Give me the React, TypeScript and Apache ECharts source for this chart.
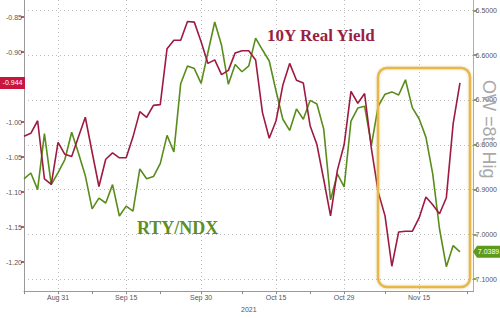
import React, { useEffect, useRef } from 'react';
import * as echarts from 'echarts';

const dates = ['Aug 24','Aug 25','Aug 26','Aug 27','Aug 30','Aug 31','Sep 1','Sep 2','Sep 3','Sep 7','Sep 8','Sep 9','Sep 10','Sep 13','Sep 14','Sep 15','Sep 16','Sep 17','Sep 20','Sep 21','Sep 22','Sep 23','Sep 24','Sep 27','Sep 28','Sep 29','Sep 30','Oct 1','Oct 4','Oct 5','Oct 6','Oct 7','Oct 8','Oct 11','Oct 12','Oct 13','Oct 14','Oct 15','Oct 18','Oct 19','Oct 20','Oct 21','Oct 22','Oct 25','Oct 26','Oct 27','Oct 28','Oct 29','Nov 1','Nov 2','Nov 3','Nov 4','Nov 5','Nov 8','Nov 9','Nov 10','Nov 11','Nov 12','Nov 15','Nov 16','Nov 17','Nov 18','Nov 19','Nov 22','Nov 23','Nov 24','Nov 26'];

const labelDates = ['Aug 31','Sep 15','Sep 30','Oct 15','Oct 29','Nov 15'];
const extraTickDates = ['Aug 24','Sep 8','Sep 22','Oct 8','Oct 22','Nov 8','Nov 24'];

const realYield = [-1.020,-1.016,-0.998,-1.081,-1.089,-1.029,-1.046,-1.049,-1.021,-0.993,-1.043,-1.092,-1.053,-1.044,-1.051,-1.051,-1.021,-0.985,-0.993,-0.976,-0.975,-0.895,-0.883,-0.883,-0.856,-0.857,-0.885,-0.916,-0.911,-0.932,-0.926,-0.901,-0.898,-0.898,-0.911,-0.986,-1.023,-0.998,-0.947,-0.916,-0.940,-0.944,-1.005,-1.032,-1.082,-1.134,-1.069,-1.032,-0.956,-0.973,-0.959,-1.038,-1.100,-1.134,-1.206,-1.157,-1.156,-1.156,-1.137,-1.107,-1.118,-1.131,-1.108,-1.002,-0.944];

const rtyNdx = [6.876,6.863,6.900,6.775,6.889,6.862,6.833,6.772,6.819,6.869,6.943,6.919,6.930,6.889,6.959,6.937,6.948,6.854,6.876,6.871,6.842,6.779,6.816,6.664,6.624,6.630,6.663,6.594,6.526,6.578,6.665,6.621,6.637,6.624,6.562,6.588,6.613,6.680,6.743,6.768,6.720,6.743,6.701,6.709,6.765,6.923,6.865,6.894,6.747,6.718,6.714,6.801,6.714,6.687,6.682,6.689,6.655,6.717,6.742,6.783,6.865,6.988,7.072,7.025,7.039];

const leftTicks = [-1.2, -1.15, -1.1, -1.05, -1.0, -0.95, -0.9, -0.85];
const leftLabels = [-1.2, -1.15, -1.1, -1.05, -1.0, -0.9, -0.85];
const rightTicks = [6.5, 6.6, 6.7, 6.8, 6.9, 7.0, 7.1];

const lastYield = -0.944;
const lastRatio = 7.0389;

const RED = '#9e1a40';
const GREEN = '#5a8c1c';
const FONT = 'Liberation Sans, Arial, sans-serif';

export default function App() {
  const ref = useRef<HTMLDivElement>(null);
  useEffect(() => {
    if (!ref.current) return;
    const chart = echarts.init(ref.current, null, { renderer: 'svg' });
    const labelSet = new Set(labelDates);
    const tickSet = new Set(extraTickDates);
    chart.setOption({
      animation: false,
      backgroundColor: '#ffffff',
      grid: { left: 24, right: 26, top: 0, bottom: 17 },
      xAxis: {
        type: 'category',
        data: dates,
        boundaryGap: false,
        axisLine: { lineStyle: { color: '#9a9a9a', width: 1 } },
        axisTick: {
          interval: (i: number, v: string) => labelSet.has(v) || tickSet.has(v),
          length: 3,
          lineStyle: { color: '#8a8a8a' },
        },
        axisLabel: {
          interval: (i: number, v: string) => labelSet.has(v),
          fontSize: 7,
          color: '#555',
          margin: 3,
          fontFamily: FONT,
        },
        splitLine: {
          show: true,
          interval: (i: number, v: string) => labelSet.has(v),
          lineStyle: { color: '#bdbdbd', type: [1, 3], width: 1 },
        },
        name: '2021',
        nameLocation: 'middle',
        nameGap: 12,
        nameTextStyle: { fontSize: 7, color: '#555', fontFamily: FONT },
      },
      yAxis: [
        {
          type: 'value',
          position: 'left',
          min: -1.24155,
          max: -0.82535,
          axisLine: { show: true, lineStyle: { color: '#9a9a9a' } },
          axisTick: { show: true, length: 3, customValues: leftTicks, lineStyle: { color: '#b5173d', width: 1.5 } },
          axisLabel: { customValues: leftLabels, formatter: (v: number) => v.toFixed(2), fontSize: 7, color: '#555', margin: 2, fontFamily: FONT },
          splitLine: { show: false },
        },
        {
          type: 'value',
          position: 'right',
          inverse: true,
          min: 6.4769,
          max: 7.12659,
          axisLine: { show: true, lineStyle: { color: '#a8b48a' } },
          axisTick: { show: true, length: 3, customValues: rightTicks, lineStyle: { color: GREEN, width: 1.5 } },
          axisLabel: { customValues: rightTicks, formatter: (v: number) => v.toFixed(4), fontSize: 7, color: '#555', margin: 2, fontFamily: FONT },
          splitLine: { show: true, lineStyle: { color: '#bdbdbd', type: [1, 3], width: 1 } },
        },
      ],
      series: [
        {
          name: 'RTY/NDX',
          type: 'line',
          yAxisIndex: 1,
          data: rtyNdx,
          showSymbol: false,
          lineStyle: { color: GREEN, width: 1.6 },
          itemStyle: { color: GREEN },
        },
        {
          name: '10Y Real Yield',
          type: 'line',
          yAxisIndex: 0,
          data: realYield,
          showSymbol: false,
          lineStyle: { color: RED, width: 1.6 },
          itemStyle: { color: RED },
        },
      ],
    });

    const yRed = chart.convertToPixel({ yAxisIndex: 0 }, lastYield) as number;
    const yGreen = chart.convertToPixel({ yAxisIndex: 1 }, lastRatio) as number;

    chart.setOption({
      graphic: [
        {
          type: 'rect',
          shape: { x: 378, y: 68, width: 92, height: 219, r: 9 },
          style: { fill: 'none', stroke: '#e8b64a', lineWidth: 2.5, shadowBlur: 3, shadowColor: 'rgba(180,140,40,0.35)' },
          z: 10,
        },
        {
          type: 'text',
          x: 267,
          y: 35,
          style: { text: '10Y Real Yield', fill: '#9a1f42', font: 'bold 17px "Liberation Serif", "DejaVu Serif", serif', textVerticalAlign: 'middle' },
          z: 10,
        },
        {
          type: 'text',
          x: 137,
          y: 228,
          style: { text: 'RTY/NDX', fill: '#5f8f22', font: 'bold 18px "Liberation Serif", "DejaVu Serif", serif', textVerticalAlign: 'middle' },
          z: 10,
        },
        {
          type: 'text',
          x: 489,
          y: 80,
          rotation: -Math.PI / 2,
          style: { text: 'OW =8t; Hig', fill: '#a9a9a9', font: '18px "Liberation Sans", Arial, sans-serif', textVerticalAlign: 'middle', textAlign: 'left' },
          z: 5,
        },
        {
          type: 'rect',
          shape: { x: 0, y: yRed - 6, width: 25, height: 12 },
          style: { fill: '#c8163f' },
          z: 20,
        },
        {
          type: 'text',
          x: 12.5,
          y: yRed,
          style: { text: lastYield.toFixed(3), fill: '#ffffff', font: '7px "Liberation Sans", Arial, sans-serif', textAlign: 'center', textVerticalAlign: 'middle' },
          z: 21,
        },
        {
          type: 'polygon',
          shape: { points: [[473, yGreen], [477, yGreen - 6], [500, yGreen - 6], [500, yGreen + 6], [477, yGreen + 6]] },
          style: { fill: '#5e9a1c' },
          z: 20,
        },
        {
          type: 'text',
          x: 488.5,
          y: yGreen,
          style: { text: lastRatio.toFixed(4), fill: '#ffffff', font: '7px "Liberation Sans", Arial, sans-serif', textAlign: 'center', textVerticalAlign: 'middle' },
          z: 21,
        },
      ],
    });

    return () => chart.dispose();
  }, []);
  return <div ref={ref} style={{ width: 500, height: 318, position: 'absolute', left: 0, top: 0 }} />;
}
